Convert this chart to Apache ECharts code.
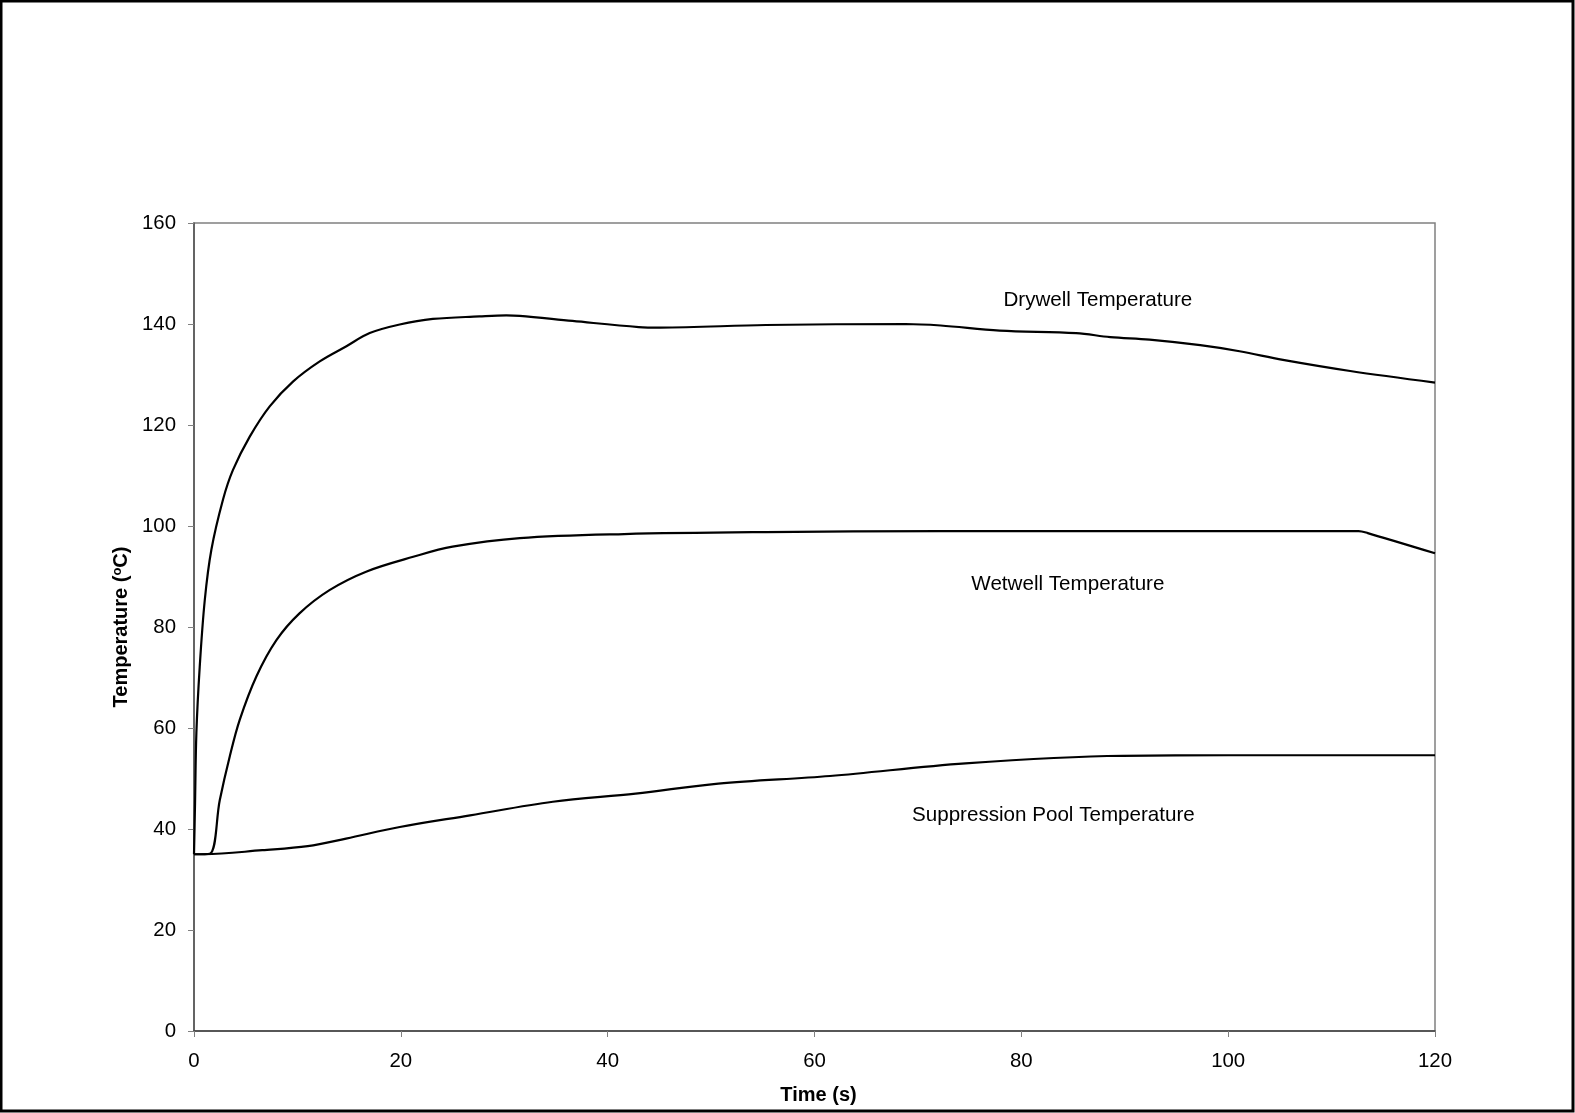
<!DOCTYPE html>
<html>
<head>
<meta charset="utf-8">
<script src="https://cdn.jsdelivr.net/npm/echarts@6/dist/echarts.min.js"></script>
<style>
  html, body { margin: 0; padding: 0; background: #fff; }
  #chart { width: 1575px; height: 1113px; }
</style>
</head>
<body>
<div id="chart"></div>
<script>
// time (s), temperature (degC) pairs
const drywell = [
  [0, 35], [0.1, 45], [0.23, 59], [0.55, 72], [1.04, 85.3], [1.68, 95.3],
  [2.8, 105.2], [3.77, 111.1], [5.39, 117.7], [7.32, 123.7], [9.57, 128.6],
  [12.16, 132.6], [14.74, 135.6], [16.99, 138.2], [19.89, 139.9], [23.1, 141.0],
  [27.6, 141.5], [30.2, 141.7], [31.5, 141.6], [36.6, 140.6], [43, 139.4],
  [45.1, 139.3], [55.3, 139.8], [68.8, 140.0], [72.2, 139.7], [77.9, 138.7],
  [85.3, 138.2], [88.6, 137.4], [92.4, 136.9], [97.3, 135.8], [101.1, 134.6],
  [105.3, 132.9], [111.8, 130.7], [120, 128.4]
];
const wetwell = [
  [0, 35], [1.52, 35.1], [2.49, 45.7], [3.45, 54.3], [4.42, 61.6], [6.03, 70.2],
  [7.97, 77.4], [10.2, 82.7], [13.1, 87.3], [16.7, 91.0], [21.2, 93.9],
  [25, 95.9], [31.5, 97.6], [41.6, 98.4], [55.3, 98.8], [72.2, 99.0],
  [112.6, 99.0], [113.5, 98.6], [120, 94.6]
];
const pool = [
  [0, 35], [1, 35], [6.6, 35.8], [11.0, 36.6], [14.7, 38.1], [19.9, 40.4],
  [26.7, 42.7], [34.7, 45.4], [42.7, 47.0], [50.7, 49.0], [61.5, 50.5],
  [74.6, 53.0], [89.8, 54.5], [100, 54.6], [120, 54.6]
];
const seriesNames = ['Drywell Temperature', 'Wetwell Temperature', 'Suppression Pool Temperature'];
// where each curve's caption sits, in data units
const noteAt = [[87.4, 144.6], [84.5, 88.5], [83.1, 42.7]];

const font = 'Liberation Sans, Arial, sans-serif';

function line(name, data, note) {
  return {
    name: name,
    type: 'line',
    data: data,
    showSymbol: false,
    smooth: 0.35,
    lineStyle: { color: '#000', width: 2.2 },
    markPoint: {
      symbol: 'circle',
      symbolSize: 0,
      silent: true,
      label: {
        show: true, position: 'inside', formatter: name,
        color: '#000', fontSize: 20.6, fontFamily: font
      },
      data: [{ coord: note }]
    }
  };
}

const chart = echarts.init(document.getElementById('chart'));
chart.setOption({
  animation: false,
  backgroundColor: '#fff',
  textStyle: { fontFamily: font },
  grid: {
    left: 194, right: 140, top: 223, bottom: 82,
    show: true, borderColor: '#808080', borderWidth: 1.5
  },
  xAxis: {
    type: 'value', min: 0, max: 120, interval: 20,
    name: 'Time (s)', nameLocation: 'middle', nameGap: 54,
    nameTextStyle: { color: '#000', fontSize: 20, fontWeight: 'bold', fontFamily: font, padding: [0, 0, 0, 8] },
    axisLine: { lineStyle: { color: '#404040', width: 1.5 } },
    axisTick: { show: true, length: 6, lineStyle: { color: '#808080' } },
    axisLabel: { color: '#000', fontSize: 20.4, margin: 20, fontFamily: font },
    splitLine: { show: false }
  },
  yAxis: {
    type: 'value', min: 0, max: 160, interval: 20,
    name: 'Temperature ({sup|o}C)', nameLocation: 'middle', nameGap: 60, nameRotate: 90,
    nameTextStyle: {
      color: '#000', fontSize: 20, fontWeight: 'bold', fontFamily: font,
      rich: { sup: { fontSize: 13, fontWeight: 'bold', verticalAlign: 'top', color: '#000', fontFamily: font } }
    },
    axisLine: { show: true, lineStyle: { color: '#505050', width: 1.5 } },
    axisTick: { show: true, length: 6, lineStyle: { color: '#808080' } },
    axisLabel: { color: '#000', fontSize: 20.4, margin: 18, fontFamily: font },
    splitLine: { show: false }
  },
  graphic: [{
    type: 'rect', silent: true,
    shape: { x: 1, y: 1, width: 1572, height: 1110 },
    style: { fill: 'none', stroke: '#000', lineWidth: 3 }
  }],
  series: [
    line(seriesNames[0], drywell, noteAt[0]),
    line(seriesNames[1], wetwell, noteAt[1]),
    line(seriesNames[2], pool, noteAt[2])
  ]
});
</script>
</body>
</html>
